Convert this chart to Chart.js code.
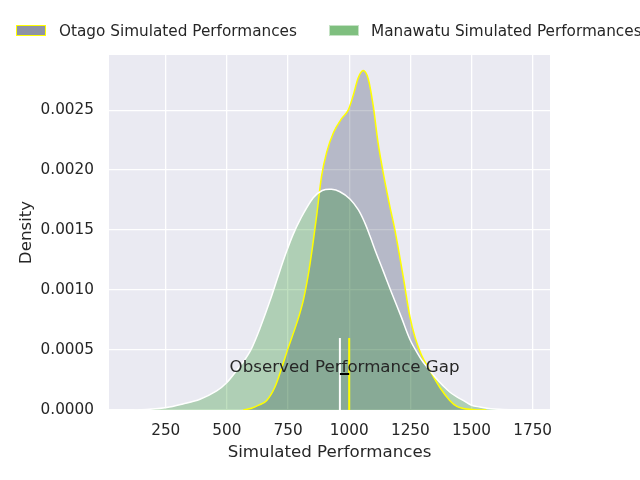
<!DOCTYPE html>
<html>
<head>
<meta charset="utf-8">
<script src="https://cdn.jsdelivr.net/npm/chart.js@4.4.1/dist/chart.umd.min.js"></script>
<style>
  body { margin: 0; overflow: hidden; background: #fff; font-family: "DejaVu Sans", sans-serif; }
  #wrap { position: relative; width: 640px; height: 480px; overflow: hidden; }
  .box { position: absolute; top: 25px; width: 30px; height: 11px; box-sizing: border-box; }
  .lbl { position: absolute; top: 22px; line-height: 18px; font-size: 15.28px; color: #262626; white-space: nowrap; }
</style>
</head>
<body>
<div id="wrap">
  <canvas id="kde" width="640" height="480"></canvas>
  <span class="box" style="left:16px; background: rgba(29,39,77,0.5); border: 1px solid #ffff00;"></span>
  <span class="lbl" style="left:59px;">Otago Simulated Performances</span>
  <span class="box" style="left:329px; background: rgba(0,128,0,0.5); border: 1px solid #c6e3c6;"></span>
  <span class="lbl" style="left:371px;">Manawatu Simulated Performances</span>
</div>
<script>
// Courbes de densité
const otagoX = [567, 600, 630, 663, 696, 724, 751, 785, 812, 833, 850, 867, 887, 908, 935, 969, 996, 1016, 1037, 1057,
                1078, 1098, 1118, 1139, 1166, 1187, 1221, 1248, 1270, 1295, 1330, 1370, 1411, 1440, 1466, 1510, 1561];
const otagoY = [0, 0.000015, 0.00004, 0.00008, 0.00019, 0.00035, 0.00052, 0.00072, 0.00091, 0.00113, 0.00136, 0.00162,
                0.00195, 0.00215, 0.00231, 0.00243, 0.00250, 0.00262, 0.00277, 0.00283, 0.00276, 0.00254, 0.00223,
                0.00198, 0.00170, 0.00150, 0.00111, 0.00078, 0.00060, 0.00046, 0.00033, 0.00019, 0.00008, 0.00003,
                0.000013, 0.000003, 0];

const manawatuX = [96, 170, 254, 320, 390, 458, 500, 540, 570, 600, 635, 676, 710, 740, 770, 800, 853, 890, 928, 962,
                   1003, 1037, 1064, 1085, 1112, 1139, 1173, 1214, 1248, 1280, 1302, 1330, 1357, 1385, 1411, 1440,
                   1466, 1500, 1534, 1580, 1629, 1700, 1750];
const manawatuY = [0, 0.000004, 0.00002, 0.00005, 0.00009, 0.00016, 0.00023, 0.00033, 0.00041, 0.00051, 0.00068,
                   0.00091, 0.00112, 0.00130, 0.00146, 0.00159, 0.00177, 0.00183, 0.00184, 0.00182, 0.00176, 0.00167,
                   0.00156, 0.00145, 0.00130, 0.00116, 0.00098, 0.00077, 0.00059, 0.00047, 0.00040, 0.00033, 0.00026,
                   0.00020, 0.00015, 0.00011, 0.00008, 0.00004, 0.000025, 0.00001, 0.000005, 0.000001, 0];

// Performances observées : Manawatu (blanc), Otago (jaune)
const observedX = [962, 1000];
const markerTop = 0.0006;
const gapY = 0.0003;
const gapLabelY = 0.00035;
const gapLabel = 'Observed Performance Gap';

const xTicks = [250, 500, 750, 1000, 1250, 1500, 1750];
const yTicks = [0, 0.0005, 0.0010, 0.0015, 0.0020, 0.0025];

const FONT = '"DejaVu Sans", sans-serif';
const TEXT = '#262626';

const toPoints = (xs, ys) => xs.map((x, i) => ({ x: x, y: ys[i] }));

// Fond gris-bleu façon seaborn
const plotBackground = {
    id: 'plotBackground',
    beforeDraw(chart) {
        const { ctx, chartArea: a } = chart;
        ctx.save();
        ctx.fillStyle = '#eaeaf2';
        ctx.fillRect(a.left, a.top, a.right - a.left, a.bottom - a.top);
        ctx.restore();
    }
};

// Texte de l'annotation
const gapText = {
    id: 'gapText',
    afterDatasetsDraw(chart) {
        const { ctx, scales } = chart;
        const mid = (observedX[0] + observedX[1]) / 2;
        ctx.save();
        ctx.font = '16.67px ' + FONT;
        ctx.fillStyle = TEXT;
        ctx.textAlign = 'center';
        ctx.textBaseline = 'middle';
        ctx.fillText(gapLabel, scales.x.getPixelForValue(mid), scales.y.getPixelForValue(gapLabelY));
        ctx.restore();
    }
};

const straight = { pointRadius: 0, tension: 0, fill: false, borderWidth: 2 };

new Chart(document.getElementById('kde'), {
    type: 'line',
    data: {
        datasets: [
            Object.assign({}, straight, {
                label: 'gap',
                data: [{ x: observedX[0], y: gapY }, { x: observedX[1], y: gapY }],
                borderColor: '#000000'
            }),
            Object.assign({}, straight, {
                label: 'Otago observed',
                data: [{ x: observedX[1], y: 0 }, { x: observedX[1], y: markerTop }],
                borderColor: '#ffff00'
            }),
            Object.assign({}, straight, {
                label: 'Manawatu observed',
                data: [{ x: observedX[0], y: 0 }, { x: observedX[0], y: markerTop }],
                borderColor: '#ffffff'
            }),
            {
                label: 'Manawatu Simulated Performances',
                data: toPoints(manawatuX, manawatuY),
                borderColor: '#ffffff',
                backgroundColor: 'rgba(0,128,0,0.25)',
                borderWidth: 1.5,
                fill: 'origin',
                pointRadius: 0,
                tension: 0.35
            },
            {
                label: 'Otago Simulated Performances',
                data: toPoints(otagoX, otagoY),
                borderColor: '#ffff00',
                backgroundColor: 'rgba(29,39,77,0.25)',
                borderWidth: 1.5,
                fill: 'origin',
                pointRadius: 0,
                cubicInterpolationMode: 'monotone'
            }
        ]
    },
    options: {
        responsive: false,
        animation: false,
        layout: { padding: { top: 55, right: 90, bottom: 0, left: 0 } },
        plugins: {
            legend: { display: false },
            tooltip: { enabled: false },
            filler: { drawTime: 'beforeDatasetsDraw' }
        },
        scales: {
            x: {
                type: 'linear',
                min: 18,
                max: 1821,
                afterBuildTicks: s => { s.ticks = xTicks.map(v => ({ value: v })); },
                afterFit: s => { s.height = 70; },
                grid: { color: '#ffffff', lineWidth: 1.3, drawTicks: false },
                border: { display: false },
                ticks: { padding: 12, color: TEXT, font: { family: FONT, size: 15.28 }, maxRotation: 0, callback: v => String(v) },
                title: {
                    display: true, text: 'Simulated Performances', color: TEXT,
                    font: { family: FONT, size: 16.67 }, padding: { top: 0, bottom: 17 }
                }
            },
            y: {
                min: 0,
                max: 0.00296,
                afterBuildTicks: s => { s.ticks = yTicks.map(v => ({ value: v })); },
                afterFit: s => { s.width = 109; },
                grid: { color: '#ffffff', lineWidth: 1.3, drawTicks: false },
                border: { display: false },
                ticks: { padding: 15, color: TEXT, font: { family: FONT, size: 15.28 }, callback: v => v.toFixed(4) },
                title: {
                    display: true, text: 'Density', color: TEXT,
                    font: { family: FONT, size: 16.67 }, padding: { top: 17, bottom: 0 }
                }
            }
        }
    },
    plugins: [plotBackground, gapText]
});
</script>
</body>
</html>
